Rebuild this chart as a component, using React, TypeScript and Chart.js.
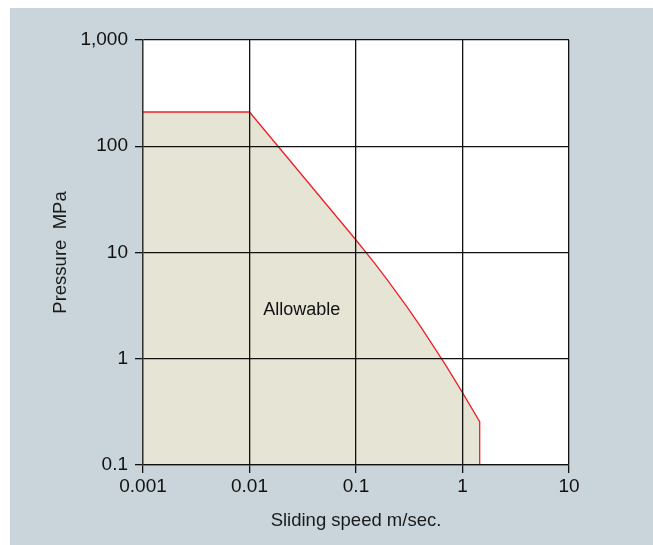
import React, { useEffect, useRef } from "react";
import { Chart, registerables } from "chart.js";

Chart.register(...registerables);

const speed = [0.001, 0.01, 0.1, 0.15, 0.2, 0.3, 0.4, 0.5, 0.7, 1.0, 1.45, 1.45];
const pressure = [210, 210, 13.1, 7.9, 5.4, 3.1, 2.04, 1.45, 0.86, 0.48, 0.256, 0.1];

const xTickValues = [0.001, 0.01, 0.1, 1, 10];
const xTickLabels = ["0.001", "0.01", "0.1", "1", "10"];
const yTickValues = [0.1, 1, 10, 100, 1000];
const yTickLabels = ["0.1", "1", "10", "100", "1,000"];

const xTitle = "Sliding speed m/sec.";
const yTitle = "Pressure  MPa";
const regionLabel = "Allowable";
const regionLabelAt = { x: 0.031, y: 2.9 };

const FONT = "'Liberation Sans', Arial, Helvetica, sans-serif";

const bgPlugin = {
  id: "bgPanel",
  beforeDraw(chart: any) {
    const { ctx, width, height, chartArea } = chart;
    ctx.save();
    ctx.fillStyle = "#c9d5da";
    ctx.fillRect(10, 8, width - 10, height - 8);
    ctx.fillStyle = "#ffffff";
    ctx.fillRect(chartArea.left, chartArea.top, chartArea.right - chartArea.left, chartArea.bottom - chartArea.top);
    ctx.restore();
  },
  afterDraw(chart: any) {
    const { ctx, scales } = chart;
    const px = scales.x.getPixelForValue(regionLabelAt.x);
    const py = scales.y.getPixelForValue(regionLabelAt.y);
    ctx.save();
    ctx.fillStyle = "#111";
    ctx.font = `18px ${FONT}`;
    ctx.textAlign = "center";
    ctx.textBaseline = "middle";
    ctx.fillText(regionLabel, px, py);
    ctx.restore();
  },
};

export default function App() {
  const ref = useRef<HTMLCanvasElement>(null);
  useEffect(() => {
    if (!ref.current) return;
    const chart = new Chart(ref.current, {
      type: "line",
      data: {
        datasets: [
          {
            data: speed.map((s, i) => ({ x: s, y: pressure[i] })),
            borderColor: "#ee2028",
            borderWidth: 1.3,
            backgroundColor: "#e5e4d5",
            fill: "start",
            pointRadius: 0,
            tension: 0,
          },
        ],
      },
      plugins: [bgPlugin],
      options: {
        animation: false,
        responsive: false,
        layout: { padding: { top: 40, right: 84, left: 0, bottom: 0 } },
        plugins: { legend: { display: false }, tooltip: { enabled: false } },
        scales: {
          x: {
            type: "logarithmic",
            min: 0.001,
            max: 10,
            afterBuildTicks: (scale: any) => {
              scale.ticks = xTickValues.map((v) => ({ value: v }));
            },
            afterFit: (scale: any) => {
              scale.height = 80;
            },
            ticks: {
              autoSkip: false,
              maxRotation: 0,
              padding: 2,
              color: "#111",
              font: { family: FONT, size: 19 },
              callback: (_v: any, i: number) => xTickLabels[i],
            },
            grid: { color: "#111", lineWidth: 1.3, tickLength: 8, drawTicks: true, z: 1 },
            border: { display: true, color: "#333", width: 1.3, z: 1 },
            title: {
              display: true,
              text: xTitle,
              color: "#1a1a1a",
              font: { family: FONT, size: 18.5 },
              padding: { top: 0, bottom: 13 },
            },
          },
          y: {
            type: "logarithmic",
            min: 0.1,
            max: 1000,
            afterBuildTicks: (scale: any) => {
              scale.ticks = yTickValues.map((v) => ({ value: v }));
            },
            afterFit: (scale: any) => {
              scale.width = 143;
            },
            ticks: {
              autoSkip: false,
              padding: 7,
              color: "#111",
              font: { family: FONT, size: 19 },
              callback: (_v: any, i: number) => yTickLabels[i],
            },
            grid: { color: "#111", lineWidth: 1.3, tickLength: 8, drawTicks: true, z: 1 },
            border: { display: true, color: "#333", width: 1.3, z: 1 },
            title: {
              display: true,
              text: yTitle,
              color: "#1a1a1a",
              font: { family: FONT, size: 18.5 },
              padding: { top: 50, bottom: 0 },
            },
          },
        },
      },
    } as any);
    return () => chart.destroy();
  }, []);
  return (
    <div style={{ position: "absolute", left: 0, top: 0, width: 653, height: 545 }}>
      <canvas ref={ref} width={653} height={545} style={{ display: "block" }} />
    </div>
  );
}
